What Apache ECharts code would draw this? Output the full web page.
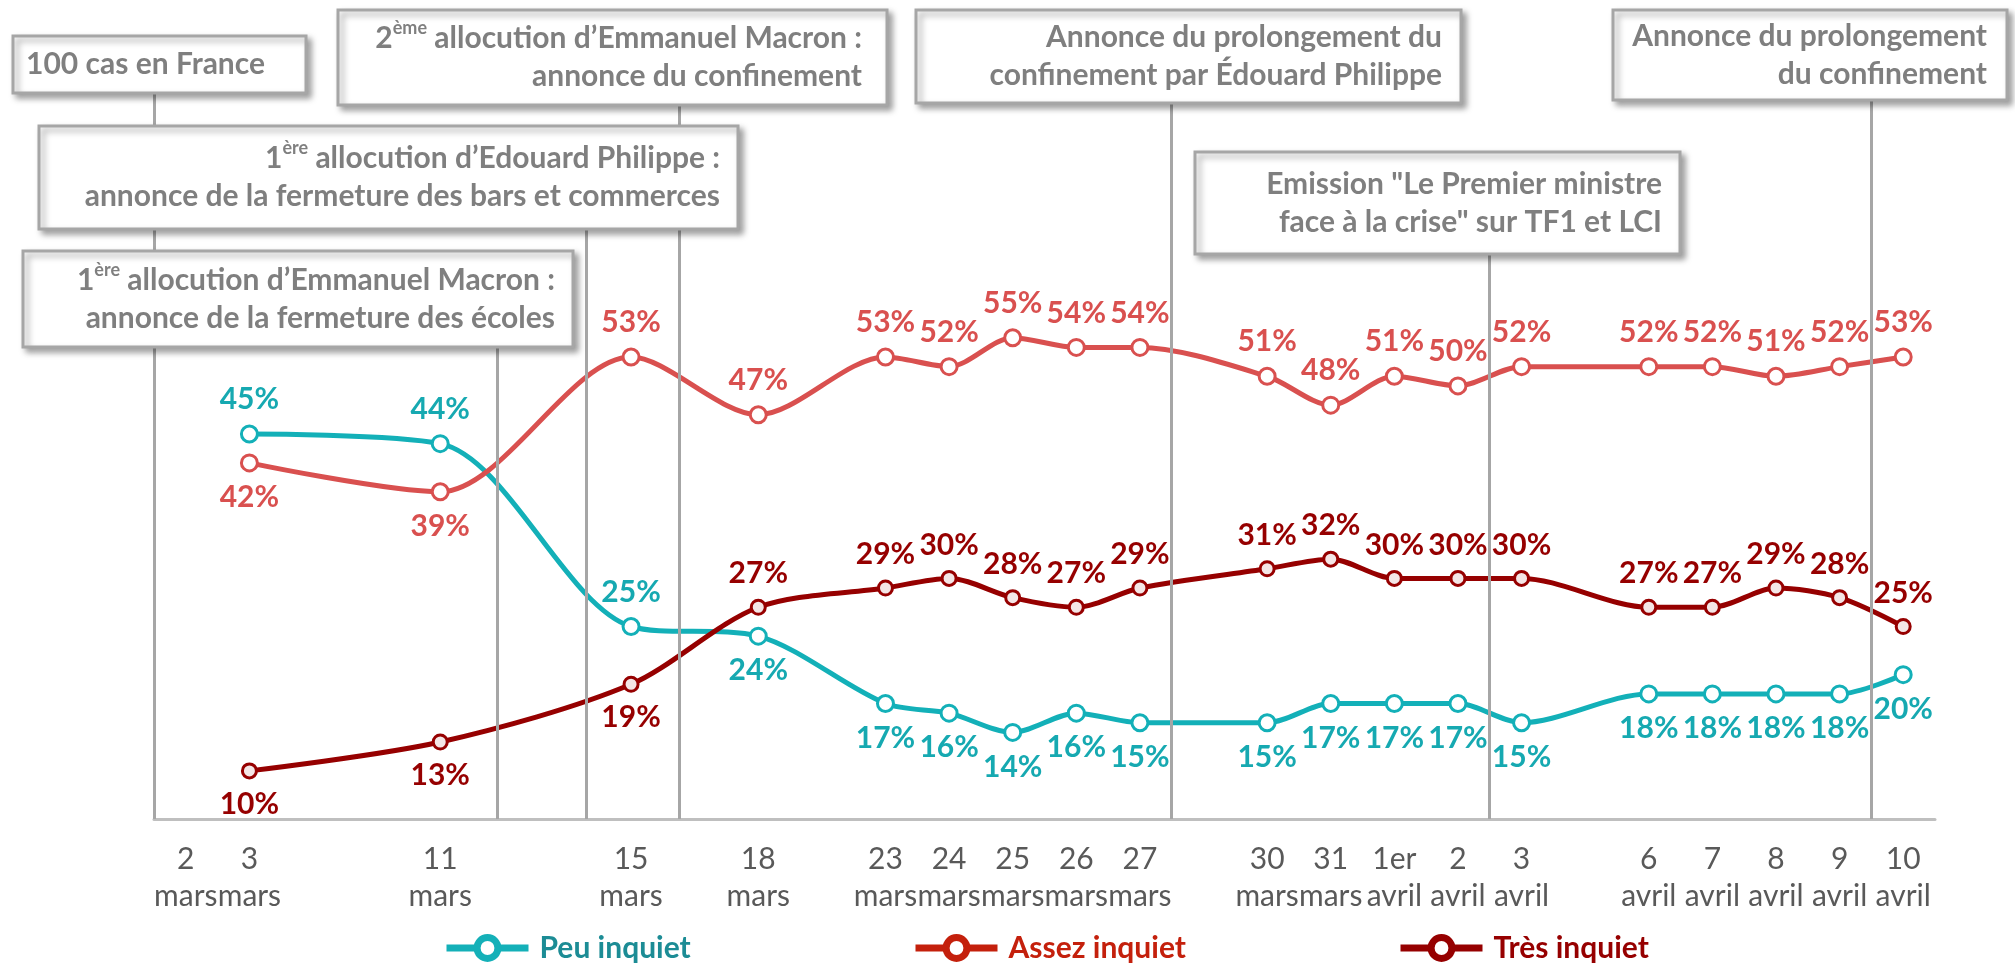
<!DOCTYPE html>
<html>
<head>
<meta charset="utf-8">
<script src="https://cdn.jsdelivr.net/npm/echarts@6/dist/echarts.min.js"></script>
<style>
  html, body { margin: 0; padding: 0; background: #fff; }
  #chart { width: 2015px; height: 968px; }
</style>
</head>
<body>
<div id="chart"></div>
<script>
const FONT = 'Lato, "Open Sans", sans-serif';

// 28 cases sur l'axe, certaines vides comme dans l'original
const categories = ['2\nmars', '3\nmars', '', '', '11\nmars', '', '', '15\nmars', '', '18\nmars', '',
  '23\nmars', '24\nmars', '25\nmars', '26\nmars', '27\nmars', '', '30\nmars', '31\nmars',
  '1er\navril', '2\navril', '3\navril', '', '6\navril', '7\navril', '8\navril', '9\navril', '10\navril'];

const peuInquiet   = [null, 45, null, null, 44, null, null, 25, null, 24, null, 17, 16, 14, 16, 15, null, 15, 17, 17, 17, 15, null, 18, 18, 18, 18, 20];
const assezInquiet = [null, 42, null, null, 39, null, null, 53, null, 47, null, 53, 52, 55, 54, 54, null, 51, 48, 51, 50, 52, null, 52, 52, 51, 52, 53];
const tresInquiet  = [null, 10, null, null, 13, null, null, 19, null, 27, null, 29, 30, 28, 27, 29, null, 31, 32, 30, 30, 30, null, 27, 27, 29, 28, 25];

// traits verticaux des événements (position en cases, valeur haute)
const eventPos = [-0.5, 4.9, 6.3, 7.75, 15.5, 20.5, 26.5];
const eventTop = [82, 56, 68, 81, 81, 66, 81];

// quels libellés sont au-dessus / en dessous
const peuLabelsAbove = [1, 4, 7];
const assezLabelsBelow = [1, 4];
const tresLabelsBelow = [1, 4, 7];

const boxes = [
  { x: 13, y: 36, w: 293, h: 57, tx: 265, text: '{t|100 cas en France}' },
  { x: 338, y: 10, w: 549, h: 95, tx: 862, text: '{t|2}{s|ème}{t| allocution d’Emmanuel Macron :}\n{t|annonce du confinement}' },
  { x: 39, y: 126, w: 699, h: 103, tx: 720, text: '{t|1}{s|ère}{t| allocution d’Edouard Philippe :}\n{t|annonce de la fermeture des bars et commerces}' },
  { x: 23, y: 251, w: 550, h: 96, tx: 555, text: '{t|1}{s|ère}{t| allocution d’Emmanuel Macron :}\n{t|annonce de la fermeture des écoles}' },
  { x: 916, y: 10, w: 545, h: 93, tx: 1442, text: '{t|Annonce du prolongement du}\n{t|confinement par Édouard Philippe}' },
  { x: 1195, y: 152, w: 485, h: 102, tx: 1662, text: '{t|Emission "Le Premier ministre}\n{t|face à la crise" sur TF1 et LCI}' },
  { x: 1613, y: 10, w: 394, h: 90, tx: 1987, text: '{t|Annonce du prolongement}\n{t|du confinement}' },
];

const boxText = {
  t: { fontSize: 30, fontWeight: 'bold', fontFamily: FONT, fill: '#7F7F7F', lineHeight: 38 },
  s: { fontSize: 18, fontWeight: 'bold', fontFamily: FONT, fill: '#7F7F7F', lineHeight: 22, verticalAlign: 'top' },
};

function makeSeries(name, values, color, fill, size, labelColor, isBelow) {
  return {
    name: name,
    type: 'line',
    data: values.map((v, i) => v == null ? null : {
      value: v,
      label: { position: isBelow(i) ? 'bottom' : 'top' },
    }),
    connectNulls: true,
    smooth: 0.3,
    smoothConstraint: false,
    symbol: 'circle',
    symbolSize: size,
    z: 3,
    lineStyle: { color: color, width: 5 },
    itemStyle: { color: fill, borderColor: color, borderWidth: 3 },
    label: {
      show: true,
      formatter: '{c}%',
      color: labelColor,
      fontFamily: FONT,
      fontWeight: 'bold',
      fontSize: 30,
      distance: 10,
    },
    emphasis: { disabled: true },
  };
}

function legendItem(name, left, symbolColor, textColor) {
  return {
    data: [{
      name: name,
      itemStyle: { color: '#fff', borderColor: symbolColor, borderWidth: 7 },
      lineStyle: { color: symbolColor, width: 7 },
      textStyle: { color: textColor },
    }],
    left: left,
    top: 933,
    padding: 0,
    itemWidth: 82,
    itemHeight: 26,
    selectedMode: false,
    textStyle: { fontFamily: FONT, fontSize: 30, fontWeight: 'bold', padding: [0, 0, 0, 6] },
  };
}

const chart = echarts.init(document.getElementById('chart'), null, { renderer: 'canvas', devicePixelRatio: 1 });

chart.setOption({
  animation: false,
  backgroundColor: '#fff',
  grid: { left: 154, right: 80, top: 49, bottom: 149 },
  xAxis: [
    {
      type: 'category',
      data: categories,
      boundaryGap: true,
      axisTick: { show: false },
      axisLine: { lineStyle: { color: '#BFBFBF', width: 3 } },
      axisLabel: { interval: 0, color: '#595959', fontFamily: FONT, fontSize: 30, lineHeight: 37, margin: 22 },
    },
    { type: 'value', min: -0.5, max: 27.5, show: false },
  ],
  yAxis: { type: 'value', min: 5, max: 85, show: false },
  legend: [
    legendItem('Peu inquiet', 443, '#14B0B8', '#1C8C95'),
    legendItem('Assez inquiet', 912, '#C4200C', '#C4200C'),
    legendItem('Très inquiet', 1397, '#960000', '#960000'),
  ],
  series: [
    {
      name: 'events',
      type: 'line',
      xAxisIndex: 1,
      data: [],
      z: 1,
      silent: true,
      markLine: {
        silent: true,
        symbol: 'none',
        animation: false,
        label: { show: false },
        lineStyle: { color: '#A6A6A6', width: 3, type: 'solid' },
        data: eventPos.map((p, i) => [{ coord: [p, 5] }, { coord: [p, eventTop[i]] }]),
      },
    },
    makeSeries('Peu inquiet', peuInquiet, '#13B0B8', '#fff', 16, '#16A9B1', i => peuLabelsAbove.indexOf(i) < 0),
    makeSeries('Assez inquiet', assezInquiet, '#D9504F', '#fff', 16, '#D9504F', i => assezLabelsBelow.indexOf(i) >= 0),
    makeSeries('Très inquiet', tresInquiet, '#960000', '#F4E6E6', 14, '#960000', i => tresLabelsBelow.indexOf(i) >= 0),
  ],
  graphic: boxes.flatMap(b => [
    {
      type: 'rect',
      z: 50,
      shape: { x: b.x, y: b.y, width: b.w, height: b.h },
      style: {
        fill: '#fff', stroke: '#A6A6A6', lineWidth: 3,
        shadowBlur: 6, shadowOffsetX: 4, shadowOffsetY: 4, shadowColor: 'rgba(0,0,0,0.35)',
      },
    },
    {
      type: 'text',
      z: 51,
      x: b.tx,
      y: b.y + b.h / 2,
      style: { text: b.text, align: 'right', verticalAlign: 'middle', rich: boxText },
    },
  ]),
});
</script>
</body>
</html>
